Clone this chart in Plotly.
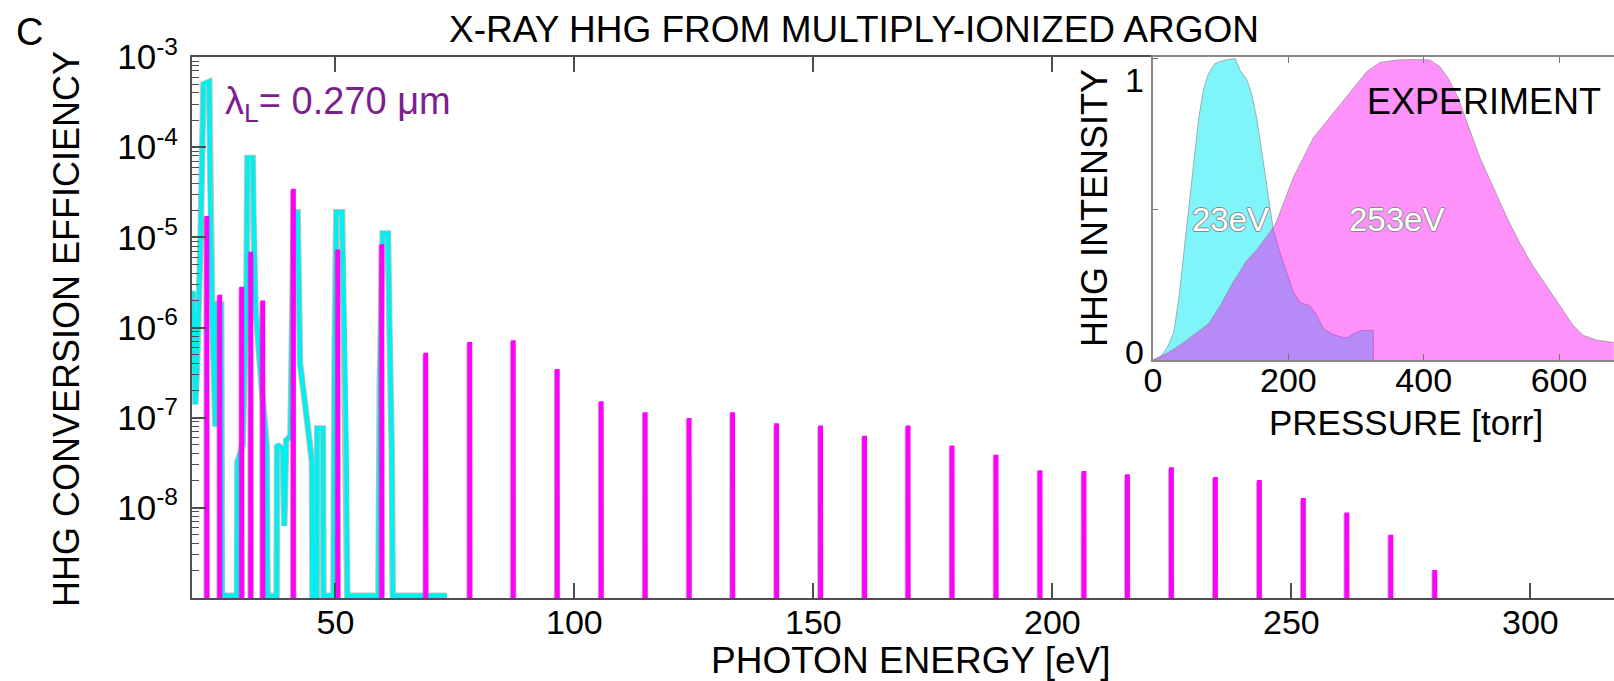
import plotly.graph_objects as go

# ---------------- data ----------------
# Low-pressure spectrum (cyan), traced outline: photon energy [eV] / conversion efficiency
cyan_energy = [20.0, 20.2, 20.7, 21.0, 21.8, 22.4, 23.6, 23.8, 24.3, 24.9, 25.2, 26.1, 26.3,
               29.4, 29.5, 30.6, 31.4, 31.6, 32.7, 32.9, 33.3, 34.5, 35.6, 35.8,
               37.7, 37.8, 39.0, 39.3, 39.7, 40.6, 41.0, 41.3, 42.1, 42.3, 42.6, 44.0, 45.1, 45.2,
               46.1, 46.2, 47.4, 47.5, 49.6, 49.8, 50.2, 51.4, 51.7, 52.3, 52.5,
               59.0, 59.3, 59.9, 61.0, 61.3, 61.8, 62.0, 73.3]
cyan_eff = [2.4e-6, 2.5e-6, 1.4e-7, 3.2e-7, 1.0e-5, 5.0e-4, 5.3e-4, 3.2e-5, 1.0e-6, 8.0e-8, 1.8e-6, 1.8e-6, 1.06e-9,
            1.06e-9, 3.2e-8, 5.0e-8, 3.2e-6, 7.6e-5, 7.6e-5, 1.0e-5, 1.6e-6, 2.5e-7, 5.0e-8, 1.06e-9,
            1.06e-9, 5.0e-8, 4.5e-8, 6.3e-9, 5.6e-8, 6.3e-8, 3.2e-6, 1.9e-5, 1.9e-5, 3.2e-6, 4.0e-7, 1.0e-7, 3.2e-8, 1.06e-9,
            1.06e-9, 7.6e-8, 7.6e-8, 1.06e-9, 1.06e-9, 3.2e-7, 1.9e-5, 1.9e-5, 1.6e-6, 5.0e-8, 1.06e-9,
            1.06e-9, 2.5e-7, 1.1e-5, 1.1e-5, 1.0e-6, 4.0e-8, 1.06e-9, 1.06e-9]

# High-pressure spectrum (magenta): harmonic energies [eV] and peak efficiencies
mag_energy = [23.1, 25.8, 30.4, 32.3, 34.8, 41.2, 50.5, 59.7, 68.9, 78.1, 87.2, 96.4, 105.6,
              114.8, 124.0, 133.1, 142.3, 151.5, 160.7, 169.8, 179.0, 188.2, 197.4, 206.6,
              215.7, 224.9, 234.1, 243.3, 252.5, 261.6, 270.8, 280.0]
mag_peak = [1.65e-5, 2.2e-6, 2.7e-6, 6.6e-6, 1.9e-6, 3.3e-5, 7.0e-6, 8.0e-6, 5.0e-7, 6.6e-7, 6.9e-7, 3.3e-7, 1.45e-7,
            1.1e-7, 9.5e-8, 1.1e-7, 8.3e-8, 7.8e-8, 6.0e-8, 7.8e-8, 4.7e-8, 3.7e-8, 2.5e-8, 2.45e-8,
            2.25e-8, 2.7e-8, 2.1e-8, 1.95e-8, 1.23e-8, 8.5e-9, 4.8e-9, 1.95e-9]

# Inset: measured HHG intensity vs gas pressure [torr]
p23_torr = [0, 10.8, 20.7, 30.5, 37.9, 45.3, 52.6, 60, 67.4, 74.8, 82.1, 92, 106.7, 121.5, 128.9,
            138.7, 146, 153.5, 160.8, 170.7, 178, 187.9, 197.7, 207.6, 217.4, 232, 242, 251.8,
            264, 276.4, 286.3, 296, 308.4, 325.6, 325.7]
p23_int = [0, 0.01, 0.04, 0.09, 0.2, 0.355, 0.51, 0.66, 0.8, 0.9, 0.95, 0.984, 0.995, 1.0, 0.96,
           0.93, 0.88, 0.8, 0.69, 0.53, 0.43, 0.355, 0.29, 0.224, 0.19, 0.18, 0.148, 0.104,
           0.087, 0.077, 0.073, 0.087, 0.098, 0.098, 0.0]
p253_torr = [0, 20.7, 40.3, 60, 82.1, 99.4, 119, 138.7, 153.5, 168.2, 180.5, 192.8, 207.6, 222.3,
             237.1, 256.8, 276.4, 296.1, 315.8, 335.5, 360, 389.6, 409.3, 424, 436.4, 451, 465.8,
             483, 502.7, 522.4, 542, 561.7, 581.4, 601, 620.7, 635.5, 655.2, 681]
p253_int = [0, 0.022, 0.05, 0.082, 0.12, 0.18, 0.26, 0.33, 0.366, 0.41, 0.448, 0.52, 0.607, 0.672,
            0.738, 0.792, 0.847, 0.9, 0.956, 0.987, 0.995, 0.997, 0.995, 0.973, 0.934, 0.869, 0.78,
            0.672, 0.574, 0.475, 0.388, 0.311, 0.246, 0.18, 0.115, 0.082, 0.066, 0.058]

y_tick_vals = [1e-3, 1e-4, 1e-5, 1e-6, 1e-7, 1e-8]
y_tick_text = ["10<sup>-3</sup>", "10<sup>-4</sup>", "10<sup>-5</sup>",
               "10<sup>-6</sup>", "10<sup>-7</sup>", "10<sup>-8</sup>"]
x_tick_vals = [50, 100, 150, 200, 250, 300]
p_tick_vals = [0, 200, 400, 600]

# ---------------- layout geometry ----------------
W, H = 1614, 681
L, R, T, B = 192, 0, 57, 83
PW, PH = W - L - R, H - T - B
FONT = "Liberation Sans, Arial, Helvetica, sans-serif"

CYAN = "#00F0F0"
MAGENTA = "#FF00FF"
HALO = "rgba(140,140,140,0.55)"
AXIS = "#4d4d4d"


def px(x):
    return (x - L) / PW


def py(y):
    return (H - B - y) / PH


# magenta harmonic spikes
FLOOR = 1e-10
mx, my = [], []
for e, h in zip(mag_energy, mag_peak):
    mx += [e - 0.14, e - 0.14, e + 0.14, e + 0.14, None]
    my += [FLOOR, h, h, FLOOR, None]

fig = go.Figure()

fig.add_trace(go.Scatter(x=cyan_energy, y=cyan_eff, mode="lines",
                         line=dict(color=HALO, width=6.5), hoverinfo="skip", showlegend=False))
fig.add_trace(go.Scatter(x=cyan_energy, y=cyan_eff, mode="lines",
                         line=dict(color=CYAN, width=4.5), showlegend=False))
fig.add_trace(go.Scatter(x=mx, y=my, mode="lines", connectgaps=False,
                         line=dict(color=HALO, width=5.5), hoverinfo="skip", showlegend=False))
fig.add_trace(go.Scatter(x=mx, y=my, mode="lines", connectgaps=False,
                         line=dict(color=MAGENTA, width=3.6), showlegend=False))

# inset curves
fig.add_trace(go.Scatter(x=p23_torr, y=p23_int, mode="lines", fill="tozeroy",
                         fillcolor="rgba(0,235,245,0.5)",
                         line=dict(color="rgba(130,130,130,0.6)", width=1),
                         xaxis="x2", yaxis="y2", showlegend=False))
fig.add_trace(go.Scatter(x=p253_torr, y=p253_int, mode="lines", fill="tozeroy",
                         fillcolor="rgba(255,0,245,0.43)",
                         line=dict(color="rgba(130,130,130,0.6)", width=1),
                         xaxis="x2", yaxis="y2", showlegend=False))

fig.update_layout(
    width=W, height=H, autosize=False,
    margin=dict(l=L, r=R, t=T, b=B, pad=0),
    paper_bgcolor="white", plot_bgcolor="white",
    font=dict(family=FONT, color="black"),
    xaxis=dict(range=[20, 20 + PW / 4.78], domain=[0, 1],
               tickvals=x_tick_vals, ticks="inside", ticklen=15, tickwidth=1.5, tickcolor=AXIS,
               showline=True, linecolor=AXIS, linewidth=2, mirror="ticks",
               showgrid=False, zeroline=False, ticklabelstandoff=-7,
               tickfont=dict(size=34, family=FONT)),
    yaxis=dict(type="log", range=[-9, -3], domain=[0, 1],
               tickmode="array", tickvals=y_tick_vals, ticktext=y_tick_text,
               ticks="inside", ticklen=14, tickwidth=1.5, tickcolor=AXIS,
               minor=dict(ticks="inside", ticklen=7, tickwidth=1, tickcolor=AXIS, dtick="D1", showgrid=False),
               showline=True, linecolor=AXIS, linewidth=2, mirror=False,
               showgrid=False, zeroline=False, ticklabelstandoff=5,
               tickfont=dict(size=35, family=FONT)),
    xaxis2=dict(range=[0, (W - 1153) / 0.6767], domain=[px(1153), 1], anchor="y2",
                tickvals=p_tick_vals, ticks="inside", ticklen=6, tickwidth=1, tickcolor="#777",
                showline=True, linecolor="#888", linewidth=1.5, mirror="ticks",
                showgrid=False, zeroline=False, ticklabelstandoff=-11,
                tickfont=dict(size=34, family=FONT)),
    yaxis2=dict(range=[0, 1.005], domain=[py(360), 1], anchor="x2",
                tickvals=[0, 0.5, 1], showticklabels=False, ticks="inside", ticklen=5,
                tickwidth=1, tickcolor="#777",
                showline=True, linecolor="#888", linewidth=1.5, mirror=False,
                showgrid=False, zeroline=False),
)

ann = []


def label(text, x, y, size, color="black", angle=0, xanchor="center", font_extra=None):
    f = dict(size=size, color=color, family=FONT)
    if font_extra:
        f.update(font_extra)
    ann.append(dict(text=text, x=px(x), y=py(y), xref="paper", yref="paper",
                    showarrow=False, xanchor=xanchor, yanchor="middle",
                    textangle=angle, font=f))


label("X-RAY HHG FROM MULTIPLY-IONIZED ARGON", 854, 29, 37)
label("C", 29, 32, 38)
label("HHG CONVERSION EFFICIENCY", 67, 329, 36, angle=-90)
label("PHOTON ENERGY [eV]", 911, 660, 37)
label("λ<sub>L</sub>= 0.270 μm", 223, 104, 38, color="#7d1f8f", xanchor="left")

label("HHG INTENSITY", 1094, 208, 36, angle=-90)
label("1", 1134, 80, 34)
label("0", 1134, 352, 34)
label("PRESSURE [torr]", 1406, 422, 35)
label("EXPERIMENT", 1484, 101, 36)
outline = dict(shadow="1px 0 0 #888, -1px 0 0 #888, 0 1px 0 #888, 0 -1px 0 #888")
label("23eV", 1230, 219, 33, color="white", font_extra=outline)
label("253eV", 1396, 219, 33, color="white", font_extra=outline)

fig.update_layout(annotations=ann)

fig.write_html("out.html")
